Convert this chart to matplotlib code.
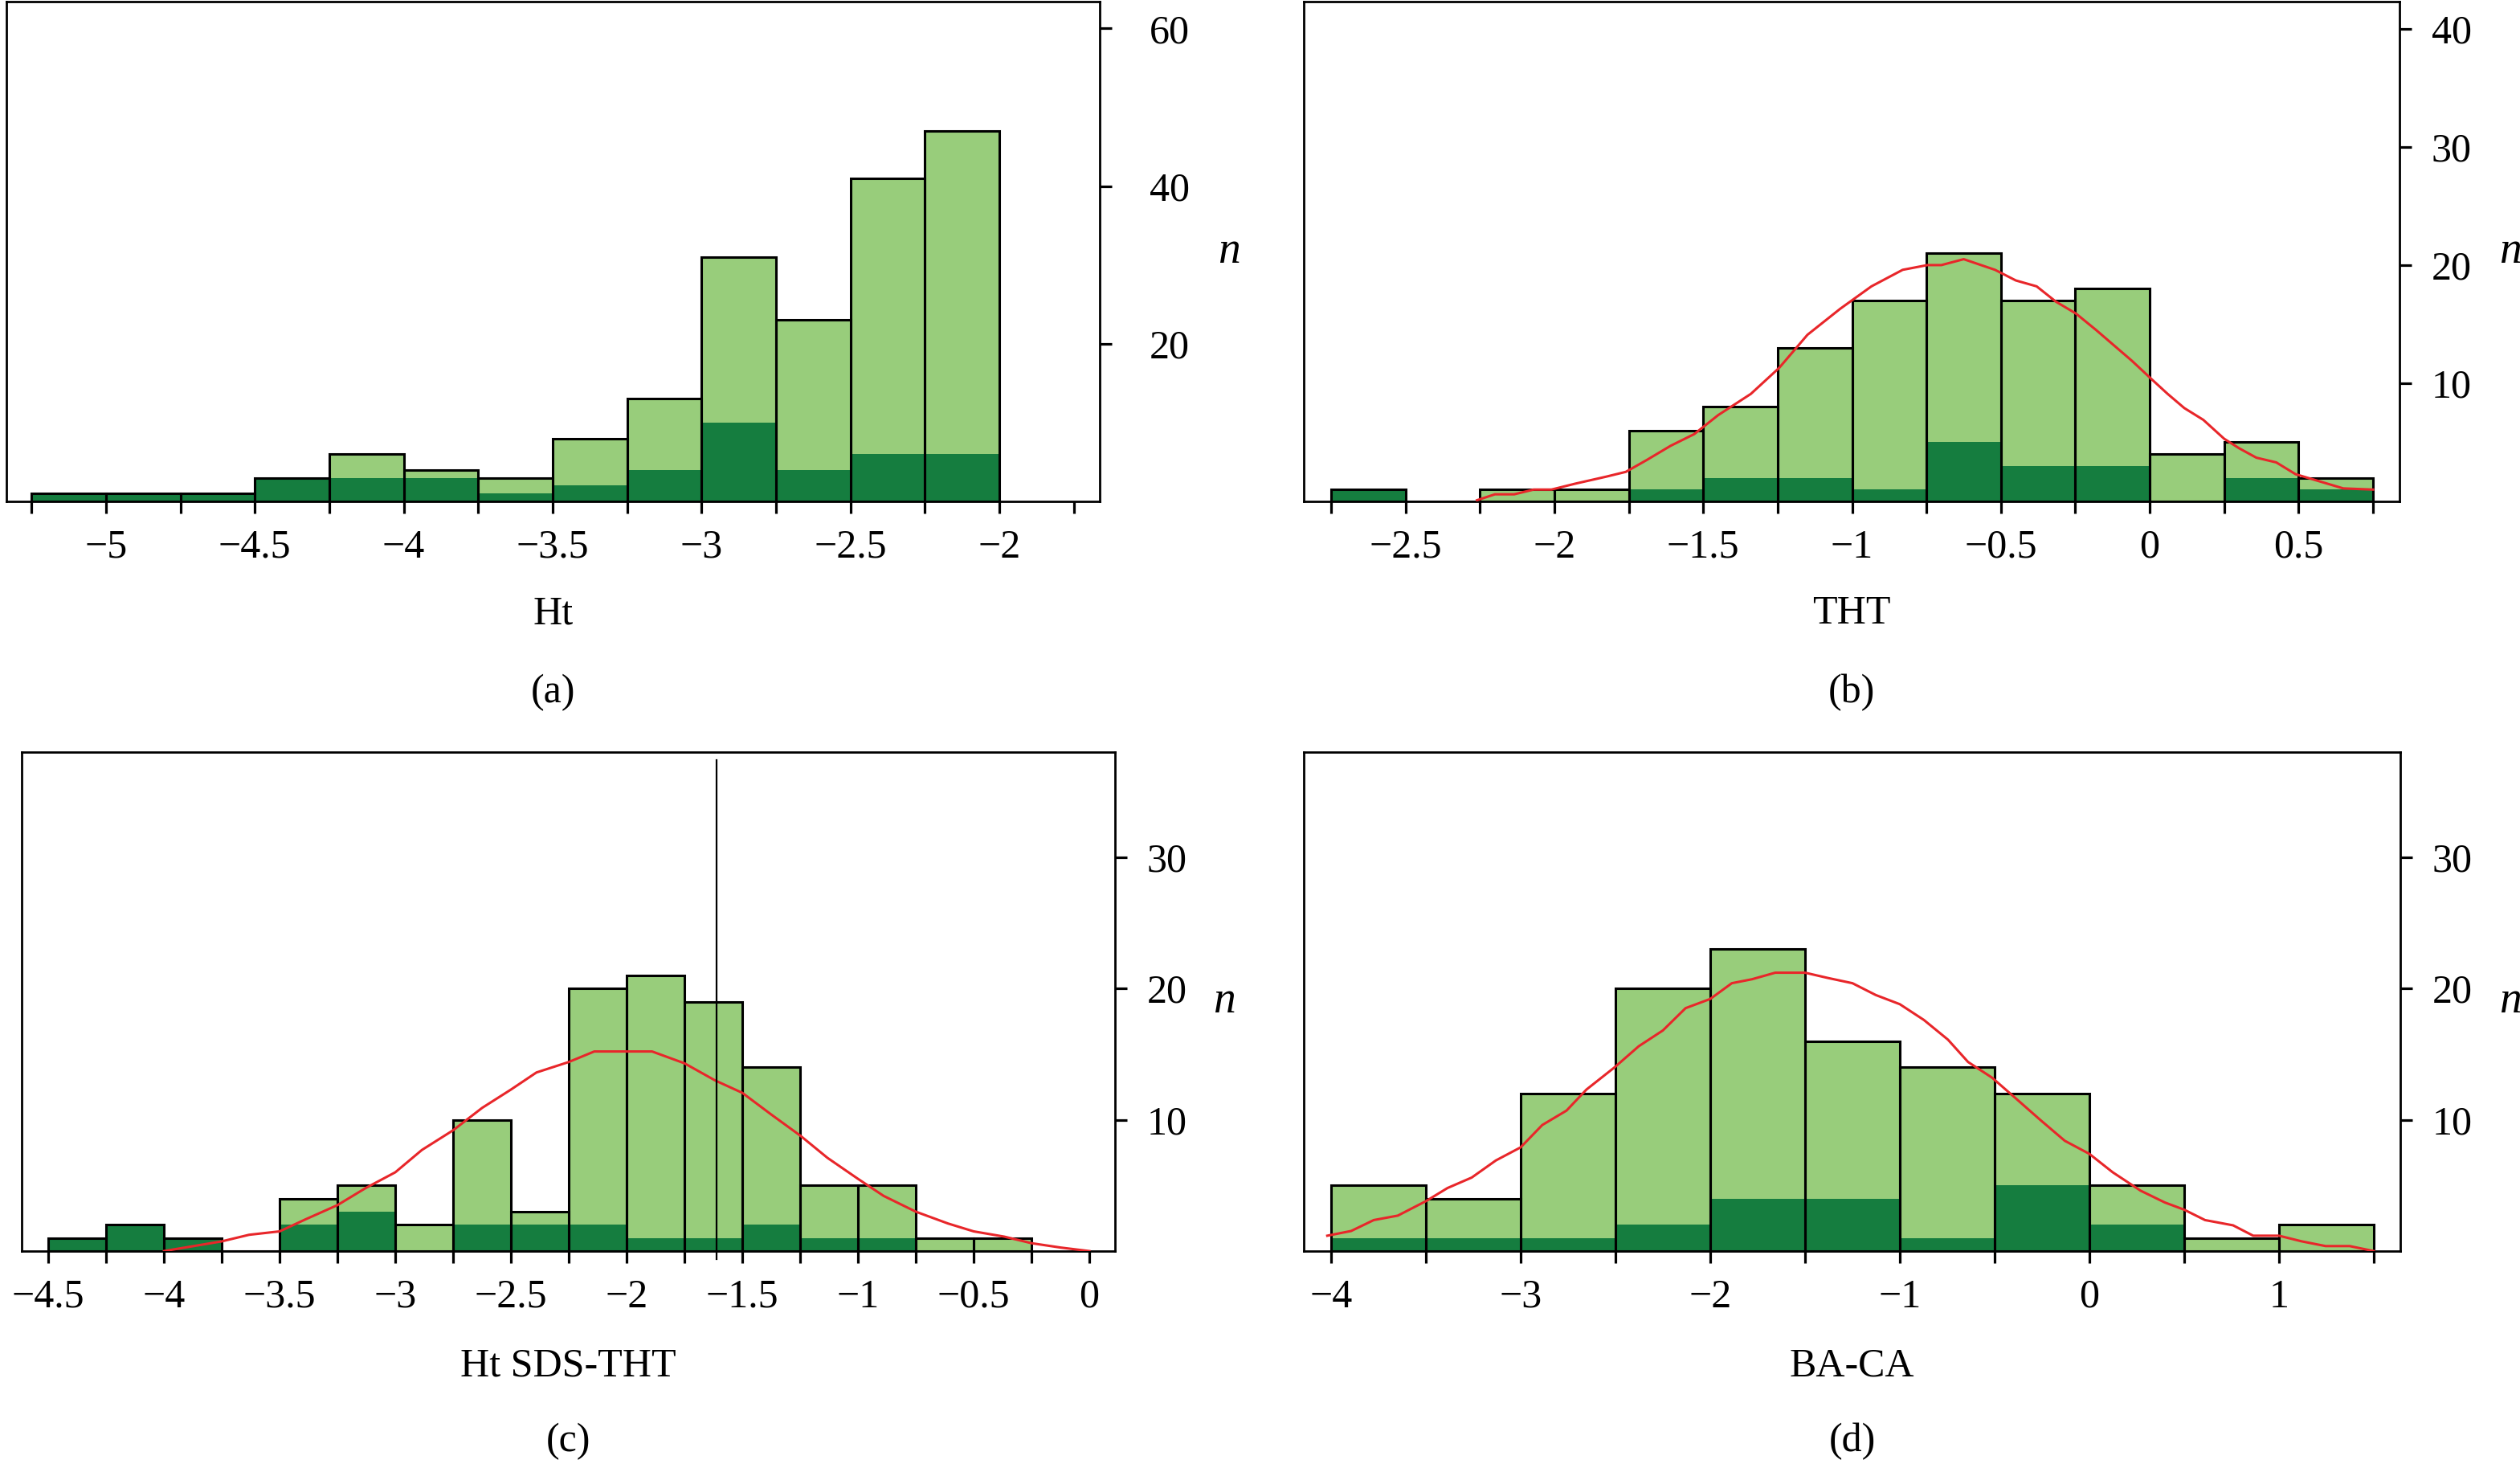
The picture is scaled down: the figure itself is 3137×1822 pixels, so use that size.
"""
Four histograms (Ht, THT, Ht SDS-THT, BA-CA) with a dark sub-group overlay
and a smoothed red curve.
"""
import numpy as np
import matplotlib
matplotlib.use("Agg")
import matplotlib.pyplot as plt

# ---- data ----
# (a) Ht
ht_edges = [-5.25, -5.0, -4.75, -4.5, -4.25, -4.0, -3.75, -3.5, -3.25, -3.0, -2.75, -2.5, -2.25, -2.0]
ht_total = [1, 1, 1, 3, 6, 4, 3, 8, 13, 31, 23, 41, 47]
ht_dark = [1, 1, 1, 3, 3, 3, 1, 2, 4, 10, 4, 6, 6]

# (b) THT
tht_edges = [-2.75, -2.5, -2.25, -2.0, -1.75, -1.5, -1.25, -1.0, -0.75, -0.5, -0.25, 0.0, 0.25, 0.5, 0.75]
tht_total = [1, 0, 1, 1, 6, 8, 13, 17, 21, 17, 18, 4, 5, 2]
tht_dark = [1, 0, 0, 0, 1, 2, 2, 1, 5, 3, 3, 0, 2, 1]
tht_curve_x = [-2.26, -2.20, -2.135, -2.07, -2.01, -1.93, -1.825, -1.76, -1.69, -1.61, -1.53, -1.45,
               -1.34, -1.245, -1.15, -1.04, -0.935, -0.83, -0.747, -0.70, -0.625, -0.52, -0.45,
               -0.38, -0.315, -0.248, -0.18, -0.06, 0.008, 0.06, 0.116, 0.18, 0.25, 0.30, 0.358,
               0.425, 0.49, 0.57, 0.65, 0.75]
tht_curve_y = [0.1, 0.6, 0.6, 1.0, 1.0, 1.5, 2.1, 2.5, 3.5, 4.7, 5.7, 7.3,
               9.1, 11.3, 14.1, 16.3, 18.2, 19.6, 20.0, 20.0, 20.5, 19.6, 18.7,
               18.2, 16.9, 15.9, 14.5, 11.9, 10.3, 9.1, 7.9, 6.9, 5.3, 4.5, 3.7,
               3.3, 2.3, 1.7, 1.1, 1.0]

# (c) Ht SDS-THT
sds_edges = [-4.5, -4.25, -4.0, -3.75, -3.5, -3.25, -3.0, -2.75, -2.5, -2.25, -2.0, -1.75, -1.5,
             -1.25, -1.0, -0.75, -0.5, -0.25]
sds_total = [1, 2, 1, 0, 4, 5, 2, 10, 3, 20, 21, 19, 14, 5, 5, 1, 1]
sds_dark = [1, 2, 1, 0, 2, 3, 0, 2, 2, 2, 1, 1, 2, 1, 1, 0, 0]
sds_marker = -1.61
sds_curve_x = [-4.0, -3.75, -3.632, -3.5, -3.39, -3.25, -3.128, -3.0, -2.885, -2.75, -2.625, -2.5,
               -2.39, -2.25, -2.14, -2.0, -1.89, -1.75, -1.618, -1.5, -1.375, -1.25, -1.132, -1.0,
               -0.889, -0.75, -0.611, -0.5, -0.368, -0.25, -0.125, 0.0]
sds_curve_y = [0.0, 0.74, 1.24, 1.5, 2.4, 3.5, 4.8, 6.0, 7.7, 9.2, 10.9, 12.3,
               13.6, 14.4, 15.2, 15.2, 15.2, 14.3, 13.0, 12.05, 10.4, 8.8, 7.1, 5.5,
               4.2, 3.0, 2.1, 1.5, 1.1, 0.6, 0.27, 0.0]

# (d) BA-CA
baca_edges = [-4.0, -3.5, -3.0, -2.5, -2.0, -1.5, -1.0, -0.5, 0.0, 0.5, 1.0, 1.5]
baca_total = [5, 4, 12, 20, 23, 16, 14, 12, 5, 1, 2]
baca_dark = [1, 1, 1, 2, 4, 4, 1, 5, 2, 0, 0]
baca_curve_x = [-4.02, -3.894, -3.775, -3.648, -3.5, -3.386, -3.258, -3.131, -3.0, -2.886, -2.758,
                -2.653, -2.504, -2.377, -2.25, -2.13, -2.0, -1.886, -1.78, -1.657, -1.5, -1.38,
                -1.25, -1.127, -1.0, -0.873, -0.746, -0.64, -0.513, -0.386, -0.26, -0.13, 0.0,
                0.123, 0.27, 0.398, 0.5, 0.61, 0.758, 0.864, 1.0, 1.12, 1.246, 1.373, 1.5]
baca_curve_y = [1.17, 1.53, 2.36, 2.7, 3.8, 4.8, 5.6, 6.9, 7.9, 9.6, 10.7,
                12.3, 14.0, 15.6, 16.8, 18.5, 19.2, 20.4, 20.7, 21.2, 21.2, 20.8,
                20.4, 19.5, 18.8, 17.6, 16.1, 14.4, 13.2, 11.6, 10.0, 8.4, 7.4,
                6.0, 4.6, 3.7, 3.15, 2.36, 1.96, 1.17, 1.17, 0.74, 0.38, 0.38, 0.0]

LIGHT = "#98cd7b"
DARK = "#157d3f"
RED = "#e8262a"
FONT = "Liberation Serif"

plt.rcParams["font.family"] = [FONT, "DejaVu Serif"]
plt.rcParams["font.size"] = 36


def fmt(v):
    return f"{v:g}".replace("-", "\u2212")


def draw_panel(ax, edges, total, dark, xlim, ylim, xticks, xlabels, yticks, ypad, npos,
               curve=None):
    edges = np.asarray(edges)
    widths = np.diff(edges)
    left = edges[:-1]
    ax.bar(left, total, widths, align="edge", color=LIGHT, edgecolor="none", zorder=1)
    ax.bar(left, dark, widths, align="edge", color=DARK, edgecolor="none", zorder=2)
    ax.bar(left, total, widths, align="edge", fill=False, edgecolor="black",
           linewidth=2.2, zorder=3)
    if curve is not None:
        ax.plot(curve[0], curve[1], color=RED, linewidth=2.2, zorder=4)

    ax.set_xlim(*xlim)
    ax.set_ylim(*ylim)

    xticks = [round(t, 2) for t in xticks]
    ax.set_xticks(xticks)
    ax.set_xticklabels([fmt(t) if t in xlabels else "" for t in xticks])
    ax.set_yticks(yticks)
    ax.set_yticklabels([fmt(t) for t in yticks])
    ax.yaxis.tick_right()
    ax.tick_params(axis="x", direction="out", length=10.5, width=2.3, pad=14, labelsize=36)
    ax.tick_params(axis="y", direction="out", length=10.5, width=2.3, pad=ypad, labelsize=36,
                   left=False, right=True, labelleft=False, labelright=True)
    for s in ax.spines.values():
        s.set_linewidth(2.0)
    ax.text(npos, 0.5, "n", transform=ax.transAxes, fontsize=40, style="italic",
            ha="center", va="center")


W, H = 3137, 1822
fig = plt.figure(figsize=(W / 100, H / 100), dpi=100)

# pixel boxes (left, top, right, bottom)
boxes = {
    "a": (8, 2, 1369, 624),
    "b": (1623, 2, 2987, 624),
    "c": (27, 936, 1388, 1557),
    "d": (1623, 936, 2988, 1557),
}


def add_axes(box):
    l, t, r, b = box
    return fig.add_axes([l / W, 1 - b / H, (r - l) / W, (b - t) / H])


ax_a = add_axes(boxes["a"])
ax_b = add_axes(boxes["b"])
ax_c = add_axes(boxes["c"])
ax_d = add_axes(boxes["d"])

# (a)
draw_panel(ax_a, ht_edges, ht_total, ht_dark,
           xlim=(-5.334, -1.663), ylim=(0, 63.4),
           xticks=list(np.arange(-5.25, -1.74, 0.25)),
           xlabels=[-5.0, -4.5, -4.0, -3.5, -3.0, -2.5, -2.0],
           yticks=[20, 40, 60], ypad=34, npos=1.118)

# (b)
draw_panel(ax_b, tht_edges, tht_total, tht_dark,
           xlim=(-2.842, 0.839), ylim=(0, 42.3),
           xticks=list(np.arange(-2.75, 0.76, 0.25)),
           xlabels=[-2.5, -2.0, -1.5, -1.0, -0.5, 0.0, 0.5],
           yticks=[10, 20, 30, 40], ypad=18, npos=1.101,
           curve=(tht_curve_x, tht_curve_y))

# (c)
draw_panel(ax_c, sds_edges, sds_total, sds_dark,
           xlim=(-4.615, 0.111), ylim=(0, 38),
           xticks=list(np.arange(-4.5, 0.01, 0.25)),
           xlabels=[-4.5, -4.0, -3.5, -3.0, -2.5, -2.0, -1.5, -1.0, -0.5, 0.0],
           yticks=[10, 20, 30], ypad=18, npos=1.10,
           curve=(sds_curve_x, sds_curve_y))
ax_c.plot([sds_marker, sds_marker], [-0.6, 37.4], color="black", linewidth=1.6,
          zorder=5, clip_on=False)

# (d)
draw_panel(ax_d, baca_edges, baca_total, baca_dark,
           xlim=(-4.144, 1.64), ylim=(0, 38),
           xticks=list(np.arange(-4.0, 1.51, 0.5)),
           xlabels=[-4.0, -3.0, -2.0, -1.0, 0.0, 1.0],
           yticks=[10, 20, 30], ypad=18, npos=1.10,
           curve=(baca_curve_x, baca_curve_y))

# axis titles and panel letters
titles = [("a", "Ht", 764, 862), ("b", "THT", 764, 862),
          ("c", "Ht SDS-THT", 1700, 1794), ("d", "BA-CA", 1700, 1794)]
for key, name, y_name, y_tag in titles:
    l, t, r, b = boxes[key]
    cx = (l + r) / 2 / W
    fig.text(cx, 1 - y_name / H, name, ha="center", va="center", fontsize=36)
    fig.text(cx, 1 - y_tag / H, f"({key})", ha="center", va="center", fontsize=36)

fig.savefig("out.png", dpi=100)
